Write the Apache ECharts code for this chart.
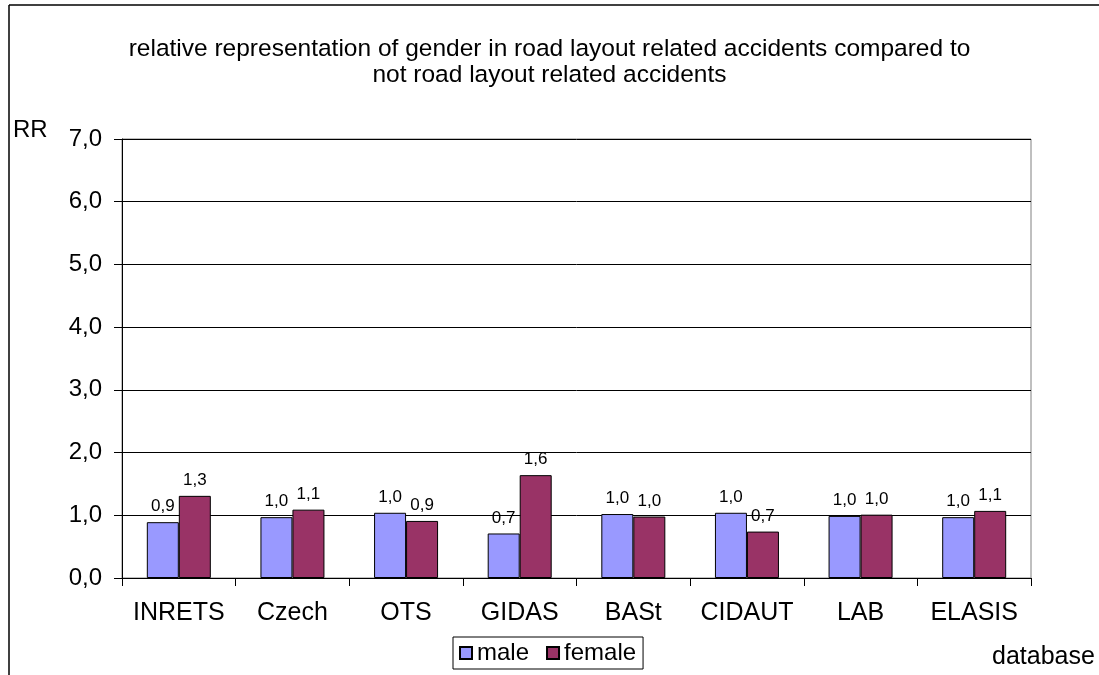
<!DOCTYPE html>
<html>
<head>
<meta charset="utf-8">
<script src="https://cdn.jsdelivr.net/npm/echarts@6/dist/echarts.min.js"></script>
<style>
  html, body { margin: 0; padding: 0; background: #fff; }
  #chart { width: 1099px; height: 675px; }
</style>
</head>
<body>
<div id="chart"></div>
<script>
// Relative representation (RR) of gender per accident database
const categories = ['INRETS', 'Czech', 'OTS', 'GIDAS', 'BASt', 'CIDAUT', 'LAB', 'ELASIS'];
const maleRR   = [0.89, 0.97, 1.04, 0.71, 1.02, 1.04, 0.99, 0.97];
const femaleRR = [1.31, 1.09, 0.91, 1.64, 0.98, 0.74, 1.01, 1.07];
const yTicks = { min: 0, max: 7, interval: 1 };

const FONT = '"Liberation Sans", Arial, sans-serif';
const fmt = v => v.toFixed(1).replace('.', ',');

const chart = echarts.init(document.getElementById('chart'), null, { renderer: 'canvas' });

const barLabel = {
  show: true,
  position: 'top',
  distance: 7,
  color: '#000',
  fontFamily: FONT,
  fontSize: 17,
  formatter: p => fmt(p.value)
};

chart.setOption({
  backgroundColor: '#fff',
  animation: false,
  textStyle: { fontFamily: FONT, color: '#000' },
  title: {
    text: 'relative representation of gender in road layout related accidents compared to\nnot road layout related accidents',
    left: 'center',
    top: 31,
    textStyle: { fontFamily: FONT, fontSize: 24.5, fontWeight: 'normal', color: '#000', lineHeight: 26 }
  },
  legend: {
    left: 453,
    top: 637,
    orient: 'horizontal',
    itemWidth: 12,
    itemHeight: 12,
    itemGap: 17,
    padding: [4, 7, 4, 6],
    borderColor: '#000',
    borderWidth: 1,
    icon: 'rect',
    textStyle: { fontFamily: FONT, fontSize: 24, color: '#000' },
    data: ['male', 'female']
  },
  grid: {
    left: 122,
    right: 68,
    top: 139,
    bottom: 97,
    show: true,
    borderColor: '#808080',
    borderWidth: 1,
    containLabel: false
  },
  xAxis: {
    type: 'category',
    data: categories,
    boundaryGap: true,
    axisLine: { show: true, lineStyle: { color: '#000', width: 1 } },
    axisTick: { show: true, inside: false, length: 8, interval: 0, lineStyle: { color: '#000' } },
    axisLabel: { fontFamily: FONT, fontSize: 25, color: '#000', margin: 23, interval: 0, hideOverlap: false },
    splitLine: { show: false }
  },
  yAxis: {
    type: 'value',
    min: yTicks.min,
    max: yTicks.max,
    interval: yTicks.interval,
    axisLine: { show: true, lineStyle: { color: '#000', width: 1 } },
    axisTick: { show: true, inside: false, length: 8, lineStyle: { color: '#000' } },
    axisLabel: { fontFamily: FONT, fontSize: 24, color: '#000', margin: 20, formatter: v => fmt(v) },
    splitLine: { show: true, lineStyle: { color: '#000', width: 1 } }
  },
  series: [
    {
      name: 'male',
      type: 'bar',
      data: maleRR,
      barWidth: 32,
      barGap: '0%',
      itemStyle: { color: '#9999FF', borderColor: '#000', borderWidth: 1 },
      label: barLabel
    },
    {
      name: 'female',
      type: 'bar',
      data: femaleRR,
      barWidth: 32,
      barGap: '0%',
      itemStyle: { color: '#993366', borderColor: '#000', borderWidth: 1 },
      label: barLabel
    }
  ],
  graphic: [
    // outer chart frame (top and left edges)
    { type: 'line', shape: { x1: 9, y1: 5, x2: 1099, y2: 5 }, style: { stroke: '#000', lineWidth: 1.5 } },
    { type: 'line', shape: { x1: 9, y1: 5, x2: 9, y2: 675 }, style: { stroke: '#000', lineWidth: 1.5 } },
    { type: 'text', left: 13, top: 118, style: { text: 'RR', font: '24px ' + FONT, fill: '#000' } },
    { type: 'text', left: 992, top: 645, style: { text: 'database', font: '25px ' + FONT, fill: '#000' } }
  ]
});
</script>
</body>
</html>
